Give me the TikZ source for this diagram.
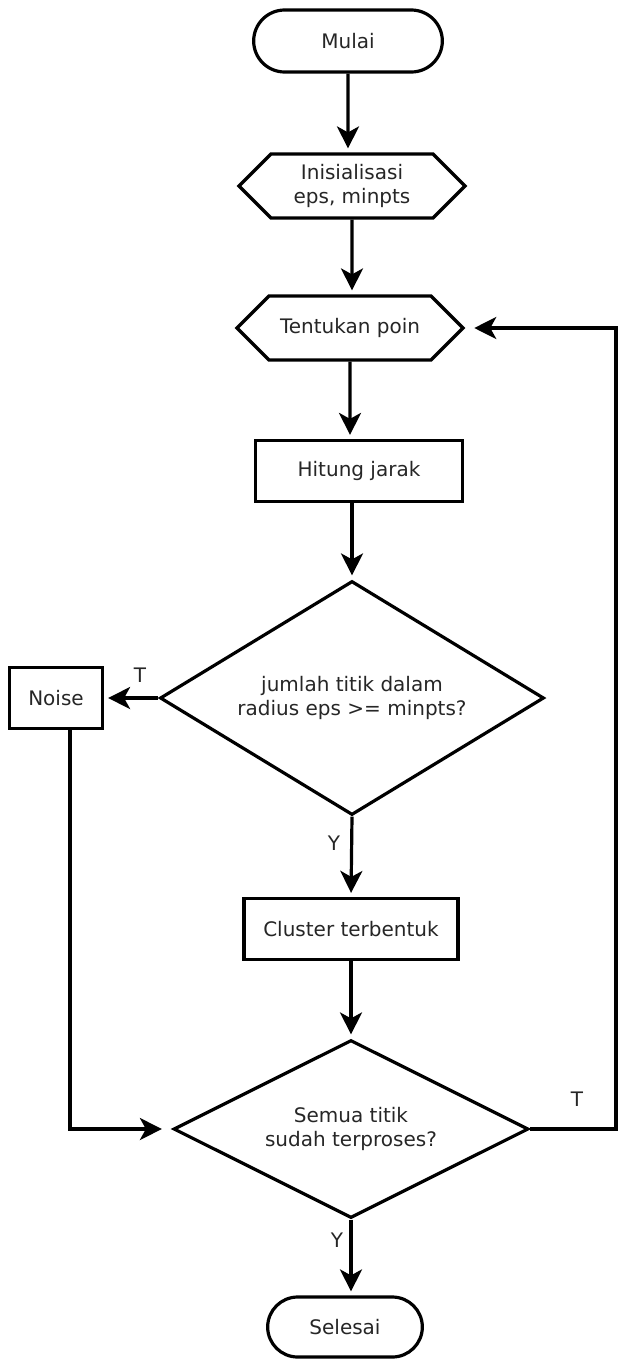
\documentclass[tikz,border=0pt]{standalone}
\usepackage{fontspec}
\setmainfont{DejaVu Sans}
\usetikzlibrary{shapes.geometric,shapes.misc,shapes.symbols,arrows.meta}
\def\termnode{\node[draw,rounded rectangle,minimum height=31pt]}
\def\prepnode{\node[draw,signal,signal to=east and west,signal pointer angle=90,minimum width=113pt,minimum height=32pt,align=center]}
\def\procnode{\node[draw,rectangle,minimum height=30.5pt]}
\def\decnode{\node[draw,diamond,inner sep=0pt,align=center]}
\def\drawflow{\draw[-{Stealth[length=11pt,width=11pt,inset=3pt]},shorten >=2pt]}

\begin{document}
\begin{tikzpicture}[x=0.5pt,y=-0.5pt,line width=1.6pt,text=black!85]
\useasboundingbox (0,0) rectangle (618,1361);
\termnode[minimum width=101pt] (mulai) at (348,41) {Mulai};
\prepnode (init) at (352,186) {Inisialisasi\\eps, minpts};
\prepnode (poin) at (350,328) {Tentukan poin};
\procnode[minimum width=103.5pt] (jarak) at (359,471) {Hitung jarak};
\decnode[aspect=1.64,minimum width=192pt,minimum height=117pt] (cek1) at (352,698) {jumlah titik dalam\\radius eps >= minpts?};
\procnode[minimum width=46.5pt] (noise) at (56,698) {Noise};
\procnode[minimum width=107pt] (cluster) at (351,929) {Cluster terbentuk};
\decnode[aspect=2,minimum width=177.5pt,minimum height=89pt] (cek2) at (351,1129) {Semua titik\\sudah terproses?};
\termnode[minimum width=84pt,minimum height=30pt] (selesai) at (345,1327) {Selesai};
\node (t1) at (140,675) {T};
\node (y1) at (334,843) {Y};
\node (t2) at (577,1099) {T};
\node (y2) at (337,1240) {Y};
\coordinate (back) at (616,328);
\drawflow (mulai) -- (mulai |- init.north);
\drawflow (init) -- (init |- poin.north);
\drawflow (poin) -- (poin |- jarak.north);
\drawflow (cek1.north |- jarak.south) -- (cek1.north);
\drawflow (cek1.west) -- (noise.east);
\drawflow (cek1.south) -- (cluster.north);
\drawflow (cluster) -- (cek2.north);
\drawflow[shorten >=5pt] ([xshift=7pt]noise.south) |- (cek2.west);
\drawflow[shorten >=4.5pt] (cek2.east) -| (back) -- (poin.east);
\drawflow (cek2.south) -- (cek2.south |- selesai.north);
\end{tikzpicture}
\end{document}
